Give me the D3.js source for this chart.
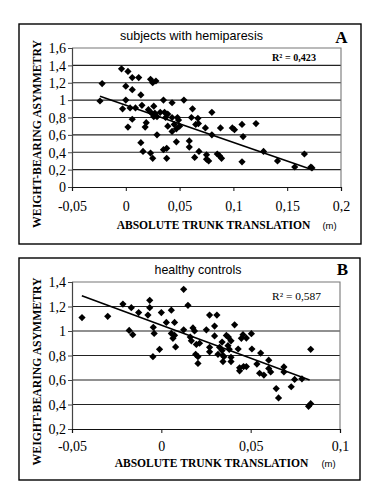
<!DOCTYPE html>
<html><head><meta charset="utf-8">
<script src="https://cdn.jsdelivr.net/npm/d3@7"></script>
<style>html,body{margin:0;padding:0;background:#fff;}svg{display:block;}</style>
</head><body>
<svg id="chart" width="380" height="503"></svg>
<script>
// ---------- DATA ----------
// Panel A: subjects with hemiparesis
const hemiX = [-0.022,-0.024,-0.004,0.002,0.006,0.012,0.000,0.006,0.014,0.000,-0.003,0.004,0.009,0.015,0.006,0.002,0.018,0.019,
  0.023,0.025,0.028,0.014,0.016,0.023,0.025,0.029,0.035,0.038,0.038,0.026,0.027,0.035,0.043,0.054,0.062,0.080,0.021,0.024,0.026,0.029,
  0.032,0.036,0.039,0.037,0.043,0.048,0.049,0.061,0.067,0.039,0.045,0.047,0.050,0.043,0.065,0.074,0.088,0.099,0.101,0.108,0.121,0.080,
  0.109,0.047,0.059,0.059,0.064,0.068,0.075,0.075,0.077,0.085,0.087,0.089,0.108,0.128,0.141,0.157,0.166,0.173,0.172,0.0675];
const hemiY = [1.19,0.99,1.36,1.33,1.26,1.26,1.16,1.12,1.06,1.00,0.90,0.91,0.91,0.94,0.78,0.69,0.69,0.74,
  1.24,1.20,1.22,0.51,0.41,0.39,0.33,0.60,0.43,0.445,0.33,0.93,0.85,1.00,0.97,1.00,0.90,0.86,0.89,0.85,0.81,0.81,
  0.86,0.86,0.84,0.80,0.80,0.80,0.77,0.80,0.79,0.70,0.72,0.67,0.70,0.64,0.72,0.68,0.68,0.68,0.66,0.72,0.73,0.60,
  0.58,0.52,0.53,0.46,0.34,0.41,0.37,0.32,0.30,0.38,0.36,0.33,0.29,0.41,0.30,0.23,0.38,0.22,0.23,0.73];
const hemiTrendX = [-0.024, 0.172];
const hemiTrendY = [1.045, 0.205];
const hemiR2 = "R\u00B2 = 0,423";

// Panel B: healthy controls
const ctrlX = [-0.0444,-0.030,-0.0215,-0.0168,-0.0127,-0.018,-0.016,-0.0065,-0.0065,-0.0075,-0.0045,-0.004,-0.001,-0.0047,0.000,
  0.0125,0.0149,0.0056,0.0028,0.0074,0.0056,0.0074,0.0065,0.0080,0.0125,0.0162,0.0168,0.0177,0.0186,0.0196,0.0214,0.0192,0.0205,
  0.0205,0.0252,0.0270,0.0311,0.0298,0.0298,0.027,0.027,0.0326,0.034,0.0317,0.034,0.0345,0.035,0.0345,0.0364,0.0375,0.039,0.0410,
  0.0373,0.038,0.039,0.039,0.043,0.0448,0.0457,0.0438,0.0438,0.046,0.0476,0.0504,0.0507,0.0556,0.0476,0.0535,0.0601,0.055,0.0574,
  0.0601,0.0612,0.0686,0.0686,0.0643,0.0656,0.0727,0.0746,0.0787,0.0836,0.0824,0.0836];
const ctrlY = [1.11,1.12,1.22,1.19,1.15,1.005,0.97,1.25,1.19,1.13,1.03,0.98,0.85,0.79,1.15,
  1.34,1.21,1.17,1.07,1.07,0.98,0.965,0.94,0.87,1.01,0.95,0.92,1.025,1.00,0.89,0.90,0.81,0.79,
  0.735,1.01,1.13,1.13,1.04,0.96,0.867,0.83,0.867,0.91,0.81,0.84,0.80,0.79,0.75,0.964,0.95,0.92,1.05,
  0.88,0.85,0.785,0.75,0.853,0.94,0.97,0.70,0.675,0.71,0.942,0.978,0.853,0.82,0.71,0.73,0.762,0.655,0.64,
  0.694,0.666,0.707,0.666,0.53,0.454,0.545,0.605,0.61,0.85,0.385,0.407];
const ctrlTrendX = [-0.0445, 0.083];
const ctrlTrendY = [1.288, 0.60];
const ctrlR2 = "R\u00B2 = 0,587";

// Axis ticks and labels
const xTicksA = [-0.05, 0, 0.05, 0.1, 0.15, 0.2];
const xLabelsA = ["-0,05", "0", "0,05", "0,1", "0,15", "0,2"];
const yTicksA = [0, 0.2, 0.4, 0.6, 0.8, 1, 1.2, 1.4, 1.6];
const yLabelsA = ["0", "0,2", "0,4", "0,6", "0,8", "1", "1,2", "1,4", "1,6"];
const xTicksB = [-0.05, 0, 0.05, 0.1];
const xLabelsB = ["-0,05", "0", "0,05", "0,1"];
const yTicksB = [0.2, 0.4, 0.6, 0.8, 1, 1.2, 1.4];
const yLabelsB = ["0,2", "0,4", "0,6", "0,8", "1", "1,2", "1,4"];

const titles = ["subjects with hemiparesis", "healthy controls"];
const panelLetters = ["A", "B"];
const yTitle = "WEIGHT-BEARING ASYMMETRY";
const xTitle = "ABSOLUTE TRUNK TRANSLATION";
const unit = "(m)";

// ---------- DRAW ----------
const svg = d3.select("#chart");
const serif = "'Liberation Serif','Times New Roman',serif";
const sans = "'Liberation Sans','Noto Sans',sans-serif";
const diamond = d3.symbol().type(d3.symbolSquare).size(26);

// place a text centred at (cx, baseline cy), squeezed horizontally to a target width
function fitText(g, str, cx, cy, width, rot, attrs) {
  const outer = g.append("g").attr("transform", `translate(${cx},${cy}) rotate(${rot})`);
  const t = outer.append("text").attr("text-anchor", "middle").text(str);
  Object.entries(attrs).forEach(([k, v]) => t.attr(k, v));
  const w = t.node().getComputedTextLength();
  t.attr("transform", `scale(${width / w},1)`);
  return t;
}

function drawPanel(p) {
  const g = svg.append("g");
  g.append("rect").attr("x", p.box[0]).attr("y", p.box[1])
    .attr("width", p.box[2] - p.box[0]).attr("height", p.box[3] - p.box[1])
    .attr("fill", "#fff").attr("stroke", "#000").attr("stroke-width", 1.4);

  const x = d3.scaleLinear().domain(p.xDomain).range([p.plot[0], p.plot[2]]);
  const y = d3.scaleLinear().domain(p.yDomain).range([p.plot[3], p.plot[1]]);

  g.append("g").selectAll("line").data(p.yTicks.slice(1, -1)).join("line")
    .attr("x1", p.plot[0]).attr("x2", p.plot[2])
    .attr("y1", d => y(d)).attr("y2", d => y(d))
    .attr("stroke", "#222").attr("stroke-width", 1.1);
  g.append("path")
    .attr("d", `M${p.plot[0]},${y(p.yDomain[1])}H${p.plot[2]}V${p.plot[3]}`)
    .attr("fill", "none").attr("stroke", "#777").attr("stroke-width", 1.1);

  const ya = g.append("g").attr("transform", `translate(${p.plot[0]},0)`)
    .call(d3.axisLeft(y).tickValues(p.yTicks).tickFormat((d, i) => p.yLabels[i]).tickSize(4).tickPadding(2));
  ya.select(".domain").attr("stroke", "#444").attr("stroke-width", 1.2);
  ya.selectAll(".tick line").attr("stroke", "#444");
  ya.selectAll(".tick text").attr("font-family", serif).attr("font-size", 14)
    .attr("fill", "#000").attr("dy", "0.34em");

  const xa = g.append("g").attr("transform", `translate(0,${p.plot[3]})`)
    .call(d3.axisBottom(x).tickValues(p.xTicks).tickFormat((d, i) => p.xLabels[i]).tickSize(4).tickPadding(p.xPad));
  xa.select(".domain").attr("stroke", "#111").attr("stroke-width", 1.2);
  xa.selectAll(".tick line").attr("stroke", "#111");
  xa.selectAll(".tick text").attr("font-family", serif).attr("font-size", 14).attr("fill", "#000");

  g.append("line")
    .attr("x1", x(p.trendX[0])).attr("y1", y(p.trendY[0]))
    .attr("x2", x(p.trendX[1])).attr("y2", y(p.trendY[1]))
    .attr("stroke", "#000").attr("stroke-width", 1.6);

  g.append("g").selectAll("path").data(p.xs.map((v, i) => [v, p.ys[i]])).join("path")
    .attr("d", diamond)
    .attr("transform", d => `translate(${x(d[0])},${y(d[1])}) rotate(45)`)
    .attr("fill", "#000");

  fitText(g, p.title, p.titlePos[0], p.titlePos[1], p.titleLen, 0,
    {"font-family": sans, "font-size": 13});
  g.append("text").attr("x", p.letterPos[0]).attr("y", p.letterPos[1])
    .attr("text-anchor", "middle").attr("font-family", serif).attr("font-size", 17)
    .attr("font-weight", "bold").text(p.letter);
  fitText(g, p.r2, p.r2Pos[0], p.r2Pos[1], p.r2Len, 0,
    {"font-family": serif, "font-size": 10.5, "font-weight": p.r2Bold ? "bold" : "normal"});
  fitText(g, yTitle, p.yTitlePos[0], p.yTitlePos[1], 188, -90,
    {"font-family": serif, "font-size": 13.5, "font-weight": "bold"});
  fitText(g, xTitle, p.xTitlePos[0], p.xTitlePos[1], 194, 0,
    {"font-family": serif, "font-size": 13.5, "font-weight": "bold"});
  g.append("text").attr("x", p.unitPos[0]).attr("y", p.unitPos[1])
    .attr("text-anchor", "middle").attr("font-family", sans).attr("font-size", 9.5)
    .text(unit);
}

drawPanel({
  box: [19, 24, 361, 244], plot: [72, 48, 341, 187],
  xDomain: [-0.05, 0.2], yDomain: [0, 1.6],
  xTicks: xTicksA, xLabels: xLabelsA, yTicks: yTicksA, yLabels: yLabelsA, xPad: 10,
  xs: hemiX, ys: hemiY, trendX: hemiTrendX, trendY: hemiTrendY,
  title: titles[0], titlePos: [191.5, 40], titleLen: 143,
  letter: panelLetters[0], letterPos: [341.5, 43],
  r2: hemiR2, r2Pos: [294, 61], r2Len: 44, r2Bold: true,
  yTitlePos: [40.5, 134], xTitlePos: [213.5, 229], unitPos: [329.5, 229]
});

drawPanel({
  box: [19, 258, 360, 480], plot: [72, 282, 340, 429],
  xDomain: [-0.05, 0.1], yDomain: [0.2, 1.4],
  xTicks: xTicksB, xLabels: xLabelsB, yTicks: yTicksB, yLabels: yLabelsB, xPad: 8,
  xs: ctrlX, ys: ctrlY, trendX: ctrlTrendX, trendY: ctrlTrendY,
  title: titles[1], titlePos: [198, 274], titleLen: 87,
  letter: panelLetters[1], letterPos: [342.5, 275],
  r2: ctrlR2, r2Pos: [296.5, 300], r2Len: 49, r2Bold: false,
  yTitlePos: [40.5, 371.5], xTitlePos: [211.5, 467], unitPos: [328.5, 467]
});
</script>
</body></html>
